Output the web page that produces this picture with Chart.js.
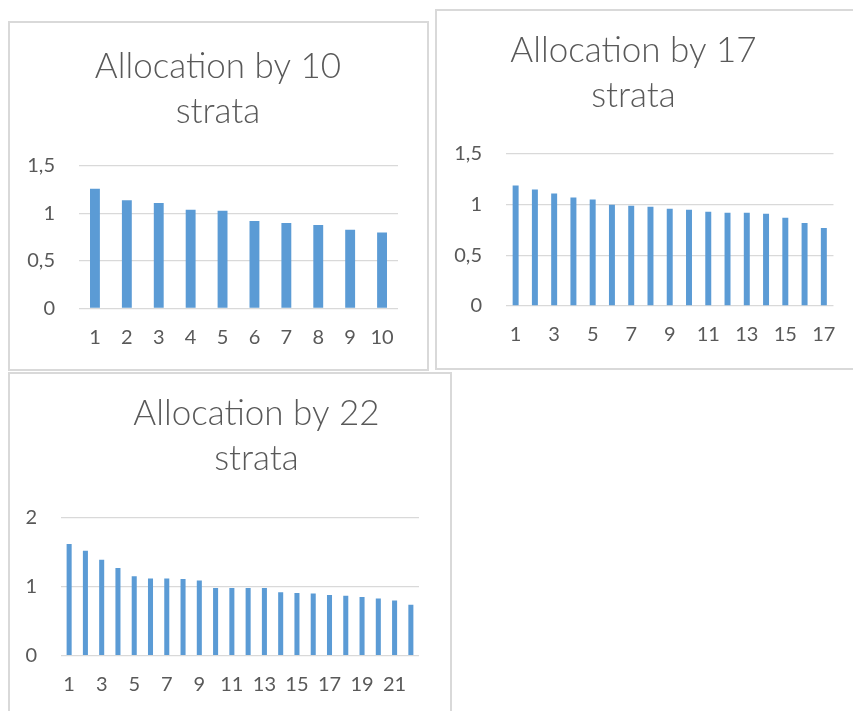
<!DOCTYPE html>
<html>
<head>
<meta charset="utf-8">
<script src="https://cdn.jsdelivr.net/npm/chart.js@4/dist/chart.umd.min.js"></script>
<style>
  html, body { margin: 0; padding: 0; background: #ffffff; }
  body { width: 853px; height: 711px; position: relative; overflow: hidden; }
  .frame { position: absolute; border: 2px solid #d9d9d9; box-sizing: border-box; }
  canvas { position: absolute; }
</style>
</head>
<body>
<div class="frame" style="left:8px; top:21px; width:421px; height:350px;"></div>
<div class="frame" style="left:435px; top:9px; width:430px; height:361px;"></div>
<div class="frame" style="left:8px; top:372px; width:444px; height:360px;"></div>

<canvas id="c10" style="left:10px; top:23px;" width="417" height="346"></canvas>
<canvas id="c17" style="left:437px; top:11px;" width="416" height="357"></canvas>
<canvas id="c22" style="left:10px; top:374px;" width="441" height="337"></canvas>

<script>
// Strata numbers and allocation values for each stratification
const strata10 = ['1', '2', '3', '4', '5', '6', '7', '8', '9', '10'];
const alloc10 = [1.26, 1.14, 1.11, 1.04, 1.03, 0.92, 0.90, 0.88, 0.83, 0.80];

const strata17 = ['1', '2', '3', '4', '5', '6', '7', '8', '9', '10', '11', '12', '13', '14', '15', '16', '17'];
const alloc17 = [1.19, 1.15, 1.11, 1.07, 1.05, 1.00, 0.99, 0.98, 0.96, 0.95, 0.93, 0.92, 0.92, 0.91, 0.87, 0.82, 0.77];

const strata22 = ['1', '2', '3', '4', '5', '6', '7', '8', '9', '10', '11', '12', '13', '14', '15', '16', '17', '18', '19', '20', '21', '22'];
const alloc22 = [1.62, 1.52, 1.39, 1.27, 1.15, 1.12, 1.12, 1.11, 1.09, 0.98, 0.98, 0.98, 0.98, 0.92, 0.91, 0.90, 0.88, 0.87, 0.85, 0.83, 0.80, 0.74];

// Y axis ranges
const yMax10 = 1.5, yStep10 = 0.5;
const yMax17 = 1.5, yStep17 = 0.5;
const yMax22 = 2, yStep22 = 1;

const TEXT = '#595959';
const BAR = '#5b9bd5';
const GRID = '#d9d9d9';
const FONT = 'Lato, "Open Sans", sans-serif';

// Two-line chart title drawn at a given centre and baseline
const twoLineTitle = {
  id: 'twoLineTitle',
  afterDraw(chart, args, opts) {
    const ctx = chart.ctx;
    ctx.save();
    ctx.fillStyle = TEXT;
    ctx.font = opts.weight + ' ' + opts.size + 'px ' + FONT;
    ctx.textAlign = 'center';
    ctx.textBaseline = 'alphabetic';
    opts.lines.forEach((line, i) => {
      ctx.fillText(line, opts.x, opts.y + i * opts.gap);
    });
    ctx.restore();
  }
};

function commaNumber(v) {
  return String(Math.round(v * 10) / 10).replace('.', ',');
}

function makeChart(id, labels, values, yMax, yStep, labelEvery, lay) {
  new Chart(document.getElementById(id), {
    type: 'bar',
    data: {
      labels: labels,
      datasets: [{
        data: values,
        backgroundColor: BAR,
        borderWidth: 0,
        categoryPercentage: 1,
        barPercentage: 0.31
      }]
    },
    plugins: [twoLineTitle],
    options: {
      responsive: false,
      animation: false,
      layout: { padding: { top: lay.top, right: lay.right, bottom: lay.bottom, left: 0 } },
      plugins: {
        legend: { display: false },
        tooltip: { enabled: false },
        title: { display: false },
        twoLineTitle: {
          lines: ['Allocation by ' + labels.length, 'strata'],
          x: lay.titleX, y: lay.titleY, gap: 45, size: 35, weight: 300
        }
      },
      scales: {
        x: {
          grid: { display: false, drawTicks: false },
          border: { display: false },
          ticks: {
            color: TEXT,
            font: { family: FONT, size: 20 },
            padding: 17,
            autoSkip: false,
            maxRotation: 0,
            callback: (v, i) => (i % labelEvery === 0 ? labels[i] : '')
          },
          afterFit: s => { s.height = 40; }
        },
        y: {
          min: 0,
          max: yMax,
          grid: { color: GRID, lineWidth: 1.3, drawTicks: false },
          border: { display: false },
          ticks: {
            stepSize: yStep,
            color: TEXT,
            font: { family: FONT, size: 20 },
            padding: 24,
            callback: v => commaNumber(v)
          },
          afterFit: s => { s.width = lay.yWidth; }
        }
      }
    }
  });
}

makeChart('c10', strata10, alloc10, yMax10, yStep10, 1,
  { top: 143, right: 29, bottom: 20.5, yWidth: 69, titleX: 208, titleY: 55 });
makeChart('c17', strata17, alloc17, yMax17, yStep17, 2,
  { top: 143, right: 19, bottom: 22, yWidth: 69, titleX: 196.5, titleY: 51 });
makeChart('c22', strata22, alloc22, yMax22, yStep22, 2,
  { top: 143.7, right: 32, bottom: 15.3, yWidth: 51, titleX: 246.5, titleY: 51 });
</script>
</body>
</html>
